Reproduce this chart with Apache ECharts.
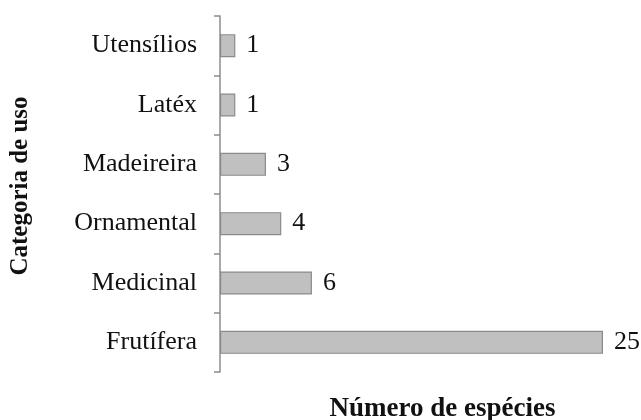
<!DOCTYPE html>
<html><head><meta charset="utf-8">
<script src="https://cdn.jsdelivr.net/npm/echarts@6/dist/echarts.min.js"></script>
<style>html,body{margin:0;padding:0;background:#fff}#c{width:641px;height:420px}</style>
</head><body><div id="c"></div>
<script>
const categories = ["Frutífera", "Medicinal", "Ornamental", "Madeireira", "Latéx", "Utensílios"];
const values = [25, 6, 4, 3, 1, 1];
const xName = "Número de espécies";
const yName = "Categoria de uso";

const font = "'Liberation Serif', 'Times New Roman', serif";
const chart = echarts.init(document.getElementById('c'), null, {renderer: 'canvas'});
chart.setOption({
  backgroundColor: '#fff',
  animation: false,
  grid: {left: 220, right: 38, top: 16, bottom: 48, containLabel: false, outerBoundsMode: 'none'},
  xAxis: {
    type: 'value', min: 0, max: 25,
    axisLine: {show: false}, axisTick: {show: false}, axisLabel: {show: false}, splitLine: {show: false},
    name: xName, nameLocation: 'middle', nameGap: 24,
    nameTextStyle: {fontFamily: font, fontSize: 27, fontWeight: 'bold', color: '#111', padding: [0, 0, 0, 62]}
  },
  yAxis: {
    type: 'category', data: categories,
    axisLine: {show: true, lineStyle: {color: '#8c8c8c', width: 1.5}},
    axisTick: {show: true, length: 6, lineStyle: {color: '#8c8c8c', width: 1.5}},
    axisLabel: {fontFamily: font, fontSize: 26, color: '#111', margin: 23},
    name: yName, nameLocation: 'middle', nameGap: 187,
    nameTextStyle: {fontFamily: font, fontSize: 25, fontWeight: 'bold', color: '#111', padding: [0, 0, 0, 16]}
  },
  series: [{
    type: 'bar', data: values, barWidth: 23,
    itemStyle: {color: '#c0c0c0', borderColor: '#8a8a8a', borderWidth: 1.2},
    label: {show: true, position: 'right', distance: 11, fontFamily: font, fontSize: 26, color: '#111'}
  }]
});
</script></body></html>
